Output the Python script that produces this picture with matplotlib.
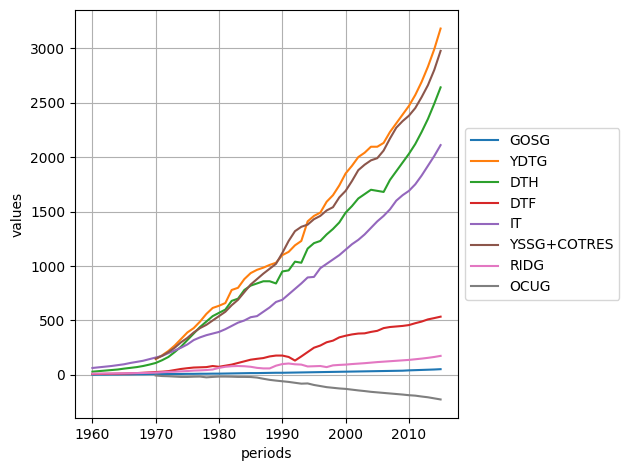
import numpy as np
import matplotlib
matplotlib.use('Agg')
import matplotlib.pyplot as plt

years = list(range(1960, 2016))
nan = np.nan

# values, one per year 1960..2015
gosg = [2, 3, 3, 4, 4, 5, 5, 6, 6, 7,
        7, 8, 8, 9, 9, 10, 10, 11, 11, 12,
        12, 13, 14, 15, 16, 17, 17, 18, 19, 20,
        20, 21, 22, 23, 24, 25, 26, 27, 28, 29,
        30, 31, 32, 33, 34, 35, 36, 37, 38, 39,
        42, 44, 46, 48, 50, 53]
ydtg = [nan] * 10 + [
        145, 180, 220, 270, 330, 390, 430, 490, 560, 615,
        635, 660, 780, 800, 880, 935, 965, 985, 1010, 1030,
        1100, 1130, 1190, 1230, 1410, 1460, 1490, 1590, 1650, 1740,
        1850, 1920, 2000, 2040, 2095, 2095, 2130, 2230, 2310, 2390,
        2470, 2570, 2690, 2830, 2990, 3180]
dth = [30, 35, 40, 45, 50, 58, 65, 72, 82, 95,
       110, 135, 165, 210, 260, 320, 380, 440, 490, 540,
       570, 600, 680, 700, 780, 820, 840, 860, 860, 840,
       950, 960, 1040, 1030, 1160, 1210, 1230, 1290, 1340, 1400,
       1490, 1550, 1620, 1660, 1700, 1690, 1680, 1790, 1870, 1950,
       2030, 2120, 2230, 2350, 2490, 2640]
dtf = [8, 9, 10, 11, 12, 13, 15, 17, 20, 23,
       27, 30, 35, 45, 55, 62, 68, 70, 72, 82,
       75, 85, 95, 110, 125, 140, 148, 155, 170, 178,
       178, 165, 132, 170, 210, 250, 270, 300, 315, 345,
       360, 372, 380, 382, 395, 405, 430, 440, 445, 450,
       458, 475, 490, 510, 522, 535]
it = [64, 70, 76, 82, 90, 98, 110, 120, 130, 145,
      160, 175, 200, 225, 250, 280, 320, 345, 365, 380,
      395, 420, 450, 480, 500, 530, 540, 580, 620, 670,
      690, 740, 790, 840, 895, 900, 980, 1020, 1060, 1100,
      1150, 1200, 1240, 1290, 1350, 1410, 1460, 1520, 1600, 1650,
      1690, 1750, 1830, 1920, 2010, 2110]
yssg = [nan] * 10 + [
        150, 175, 210, 250, 300, 340, 390, 430, 460, 500,
        540, 580, 640, 690, 760, 830, 880, 930, 975, 1020,
        1120, 1230, 1320, 1360, 1380, 1430, 1460, 1510, 1540, 1630,
        1690, 1780, 1880, 1930, 1970, 1990, 2060, 2170, 2270, 2330,
        2380, 2450, 2550, 2660, 2800, 2975]
ridg = [12, 12, 13, 13, 14, 15, 16, 17, 18, 20,
        22, 25, 28, 30, 33, 36, 40, 42, 45, 50,
        65, 75, 80, 82, 80, 75, 65, 60, 60, 85,
        100, 105, 98, 95, 78, 80, 82, 72, 88, 92,
        95, 100, 104, 108, 113, 118, 122, 126, 130, 134,
        138, 144, 150, 157, 165, 175]
ocug = [nan] * 10 + [
        -5, -10, -12, -15, -18, -18, -16, -15, -22, -18,
        -15, -15, -16, -18, -18, -19, -24, -35, -45, -52,
        -58, -64, -72, -80, -78, -92, -102, -112, -118, -124,
        -128, -135, -142, -148, -155, -160, -165, -170, -175, -180,
        -186, -190, -198, -205, -215, -225]

series = [('GOSG', gosg), ('YDTG', ydtg), ('DTH', dth), ('DTF', dtf),
          ('IT', it), ('YSSG+COTRES', yssg), ('RIDG', ridg), ('OCUG', ocug)]

fig, ax = plt.subplots(figsize=(6.3, 4.7), dpi=100)
for name, vals in series:
    ax.plot(years, vals, label=name)  # default colour cycle
ax.set_xlabel('periods')
ax.set_ylabel('values')
ax.grid()
ax.legend(loc='center left', bbox_to_anchor=(1, 0.5))
fig.subplots_adjust(left=75 / 630, right=458 / 630, top=1 - 10 / 470, bottom=1 - 418 / 470)
fig.savefig('out.png')
